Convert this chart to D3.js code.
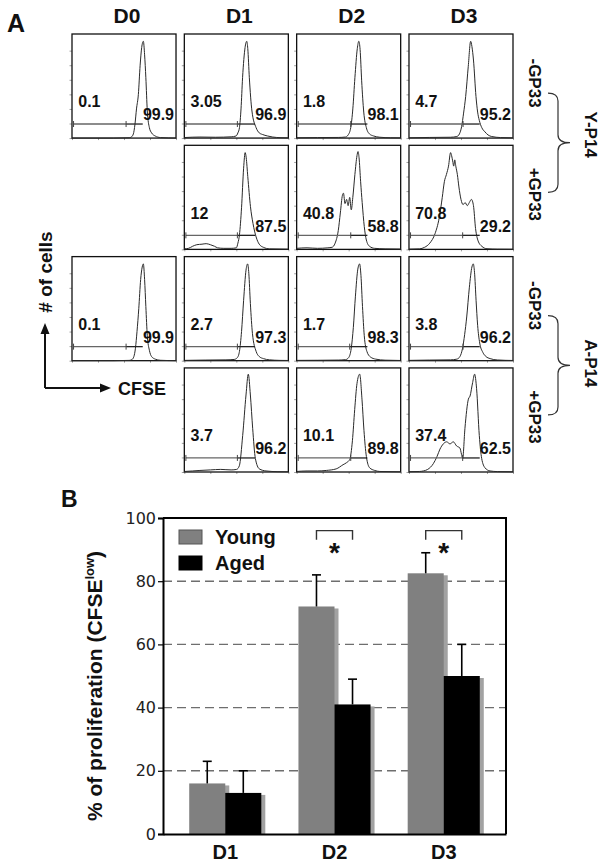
<!DOCTYPE html>
<html><head><meta charset="utf-8">
<script src="https://cdn.jsdelivr.net/npm/d3@7"></script>
<style>body{margin:0;background:#fff}svg{display:block}</style>
</head><body>
<svg id="c" width="604" height="866"></svg>
<script>
// ---------------- DATA: panel A ----------------
const columns = ["D0","D1","D2","D3"];
const rowLabels = ["-GP33","+GP33","-GP33","+GP33"];
const groupLabels = ["Y-P14","A-P14"];
const lowPct  = [["0.1","3.05","1.8","4.7"],[null,"12","40.8","70.8"],["0.1","2.7","1.7","3.8"],[null,"3.7","10.1","37.4"]];
const highPct = [["99.9","96.9","98.1","95.2"],[null,"87.5","58.8","29.2"],["99.9","97.3","98.3","96.2"],[null,"96.2","89.8","62.5"]];
const gateSplit = [[52,51,52,52],[null,51,52,51.6],[52,51,51,52],[null,51,52,51.6]];

// histogram profiles: [CFSE channel (0-100), cell count (% of panel height)]
const hYm_D0 = [[0,0],[40,0],[55,0.3],[57,1],[59,4],[60.5,13],[62,28],[63.8,42],[65.5,70],[67,87],[68.6,93],[69.8,80],[71,58],[72.4,26],[74.4,10],[76.5,5],[80,2],[85,0.5],[100,0]];
const hYm_D1 = [[0,0.5],[15,1],[30,0.8],[45,1.2],[49.7,2],[51.5,5],[53,10],[54.5,28],[56,58],[58.4,87],[60,93],[61,86],[62.5,58],[65,26],[69,10],[72,5],[75,3.5],[80,2],[85,1],[92,0.4],[100,0.2]];
const hYm_D2 = [[0,0.3],[20,0.5],[40,0.6],[47,1],[49.5,3],[52,10],[54,28],[56,58],[58.3,86],[59.8,93],[61,85],[62.5,55],[64.5,25],[67,10],[70,4],[74,2],[80,0.8],[90,0.3],[100,0.2]];
const hYm_D3 = [[0,0.3],[20,0.6],[40,0.8],[46,1.5],[48.5,4],[50.6,11],[52.5,24],[54.5,40],[57,69],[59.3,93],[60.5,88],[62,75],[64.4,40],[66,25],[67.6,17],[70,10],[73,6],[76,3],[79.5,1.5],[88,0.5],[100,0.2]];
const hYp_D1 = [[0,0.5],[4,1],[8,3],[12,4.5],[17,5],[21,5.5],[25,4.5],[29,3],[32,1.5],[38,1],[45,1],[50,1.5],[51.5,6],[53,14],[55,40],[57,78],[58.5,93],[59.5,88],[61,70],[63.6,41],[66,25],[69,12],[72,5],[76,2],[82,0.5],[100,0.2]];
const hYp_D2 = [[0,1],[10,1.5],[20,1],[30,1.5],[34,2],[37,6],[40,18],[42,35],[44,52],[45,54],[46.5,44],[48,48],[49.5,42],[51,50],[52.5,38],[54,50],[56,72],[58,90],[59,94],[60,88],[61.5,65],[63,45],[65,22],[67,9],[70,3],[75,1],[85,0.5],[100,0.3]];
const hYp_D3 = [[0,0.2],[10,0.5],[15,2],[20,6],[25,15],[29,30],[32,50],[34,65],[36,72],[38,80],[40,93],[41,90],[42,85],[43,80],[44,86],[45,80],[46.5,72],[48,60],[50,48],[52,43],[54,45],[56,42],[58,45],[60,48],[62,42],[64,20],[66.5,8],[70,3],[75,0.6],[85,0.2],[100,0.1]];
const hAm_D0 = [[0,0],[40,0],[55,0.3],[57.5,1],[59.5,4],[61,12],[62.5,28],[64.2,50],[66,78],[67.5,90],[68.6,93],[69.8,78],[71,52],[72.4,24],[74.4,10],[76.5,4],[80,1.5],[85,0.4],[100,0]];
const hAm_D1 = [[0,0.3],[20,0.6],[40,0.8],[48,1.2],[51,3],[53,9],[55,28],[57,58],[59.3,87],[60.9,93],[62,84],[63.5,55],[65.5,26],[69,9],[72,4],[76,2],[82,0.8],[92,0.3],[100,0.2]];
const hAm_D2 = [[0,0.3],[20,0.4],[40,0.6],[47,1],[50,3],[52.5,12],[54.5,32],[56.5,62],[58.8,88],[60.5,93],[61.8,82],[63.3,52],[65,24],[67.5,9],[71,3.5],[76,1.5],[85,0.5],[100,0.2]];
const hAm_D3 = [[0,0.3],[20,0.6],[40,0.8],[46,1.5],[49,4],[51.5,12],[53.5,25],[55.5,42],[58,70],[60.5,90],[61.8,93],[63,85],[64.5,58],[66,34],[68,17],[71,8],[74,4],[78,2],[85,0.7],[100,0.2]];
const hAp_D1 = [[0,0.5],[8,1],[15,1.5],[25,2],[35,2.5],[45,2],[50.3,2.5],[52.9,6],[56.1,35],[59.3,74],[61.5,94],[63.5,74],[65.7,42],[68.3,13],[72.1,3],[78.5,1],[90,0.3],[100,0.2]];
const hAp_D2 = [[0,0.5],[10,1],[20,1],[28.5,1.5],[38,3],[44.6,7],[48,9],[51,12],[53.6,30],[55.8,60],[58,85],[60.6,94],[62.8,70],[64.7,40],[67,15],[70.2,4],[75,1.5],[80,0.5],[100,0.2]];
const hAp_D3 = [[0,0.3],[10,0.5],[13.8,1],[18,2.5],[23.4,8],[27,15],[29.8,22],[33,27],[36.2,29],[39.4,27],[42.6,29],[45.8,25],[49,23],[50.5,17],[51.6,13],[53.8,42],[57.1,70],[58.7,73],[61.2,86],[63.1,94],[65,80],[67.6,35],[69.9,13],[73.1,4],[77.9,1],[85,0.4],[100,0.2]];

const histograms = [
  [hYm_D0, hYm_D1, hYm_D2, hYm_D3],
  [null,   hYp_D1, hYp_D2, hYp_D3],
  [hAm_D0, hAm_D1, hAm_D2, hAm_D3],
  [null,   hAp_D1, hAp_D2, hAp_D3]
];

// ---------------- DATA: panel B ----------------
const days = ["D1","D2","D3"];
const seriesNames = ["Young","Aged"];
const youngMean = [16, 72, 82.5];
const youngSD   = [7, 10, 6.5];
const agedMean  = [13, 41, 50];
const agedSD    = [7, 8, 10];
const yTicks = [0, 20, 40, 60, 80, 100];
const sigDays = ["D2","D3"];
const sigLevel = 96;

// ---------------- DRAW ----------------
const svg = d3.select("#c");
const SANS = "'Liberation Sans', Arial, Helvetica, sans-serif";
const TXT = "#111";

// ===== Panel A =====
svg.append("text").attr("x", 7).attr("y", 32).text("A")
  .attr("font-family", SANS).attr("font-size", 25).attr("font-weight", "bold").attr("fill", TXT);

const colScale = d3.scaleBand().domain(columns).range([72, 513]).paddingInner(0.074);
const rowScale = d3.scaleBand().domain(d3.range(4)).range([34, 472]).paddingInner(0.065);
const bw = colScale.bandwidth(), bh = rowScale.bandwidth();
const hx = d3.scaleLinear().domain([0, 100]).range([0, bw]);
const hy = d3.scaleLinear().domain([0, 100]).range([bh, 0]);
const tickX = d3.scaleLog().domain([1, 10000]).range([0, bw]);
const tickY = d3.scaleLinear().domain([0, 100]).range([bh, 0]);
const histLine = d3.line().x(d => hx(d[0])).y(d => hy(d[1])).curve(d3.curveMonotoneX);
const gateY = 13.5;

columns.forEach(c => {
  svg.append("text").attr("x", colScale(c) + bw / 2 + 3).attr("y", 23).text(c)
    .attr("text-anchor", "middle").attr("font-family", SANS).attr("font-size", 21)
    .attr("font-weight", "bold").attr("fill", TXT);
});

histograms.forEach((row, r) => {
  row.forEach((data, c) => {
    if (!data) return;
    const g = svg.append("g").attr("transform", `translate(${colScale(columns[c])},${rowScale(r)})`);
    const ay = g.append("g").call(d3.axisLeft(tickY).tickValues([0, 14, 28, 42, 56, 70, 84]).tickSize(2.5).tickFormat(""));
    const ax = g.append("g").attr("transform", `translate(0,${bh})`)
      .call(d3.axisBottom(tickX).ticks(4).tickSize(2).tickFormat(""));
    [ay, ax].forEach(a => { a.select(".domain").remove(); a.selectAll("line").attr("stroke", "#888").attr("stroke-width", 0.8); });

    g.append("rect").attr("x", 0).attr("y", 0).attr("width", bw).attr("height", bh)
      .attr("fill", "none").attr("stroke", "#111").attr("stroke-width", 1.3);

    g.append("path").datum(data).attr("d", histLine)
      .attr("fill", "none").attr("stroke", "#2a2a2a").attr("stroke-width", 1);

    const s = gateSplit[r][c];
    const gy = hy(gateY);
    g.append("line").attr("x1", hx(1.5)).attr("x2", hx(s)).attr("y1", gy).attr("y2", gy)
      .attr("stroke", "#666").attr("stroke-width", 1.3);
    g.append("line").attr("x1", hx(s)).attr("x2", hx(68)).attr("y1", gy).attr("y2", gy)
      .attr("stroke", "#222").attr("stroke-width", 1.3);
    [1.5, s].forEach(v => g.append("line").attr("x1", hx(v)).attr("x2", hx(v))
      .attr("y1", gy - 3).attr("y2", gy + 3).attr("stroke", "#444").attr("stroke-width", 1));

    g.append("text").attr("x", hx(6)).attr("y", bh * 0.705).text(lowPct[r][c])
      .attr("font-family", SANS).attr("font-size", 16).attr("font-weight", "bold").attr("fill", TXT);
    g.append("text").attr("x", bw - 2).attr("y", bh * 0.83).text(highPct[r][c])
      .attr("text-anchor", "end").attr("font-family", SANS).attr("font-size", 16)
      .attr("font-weight", "bold").attr("fill", TXT);
  });
});

// row labels (rotated)
rowLabels.forEach((lab, r) => {
  const cy = rowScale(r) + bh / 2 - 3;
  svg.append("text").attr("transform", `translate(534,${cy}) rotate(90)`).text(lab)
    .attr("text-anchor", "middle").attr("dominant-baseline", "central")
    .attr("font-family", SANS).attr("font-size", 17).attr("font-weight", "bold").attr("fill", TXT);
});

// braces + group labels
function brace(x0, yTop, yBot, yMid) {
  const x1 = x0 + 10, x2 = x0 + 22, rr = 8;
  return `M${x0},${yTop} Q${x1},${yTop} ${x1},${yTop + rr} L${x1},${yMid - rr} Q${x1},${yMid} ${x2},${yMid}` +
         ` Q${x1},${yMid} ${x1},${yMid + rr} L${x1},${yBot - rr} Q${x1},${yBot} ${x0},${yBot}`;
}
groupLabels.forEach((lab, i) => {
  const top = rowScale(i * 2) + bh / 2 + 7;
  const bot = rowScale(i * 2 + 1) + bh / 2 - 5;
  const mid = (top + bot) / 2;
  svg.append("path").attr("d", brace(548, top, bot, mid))
    .attr("fill", "none").attr("stroke", "#333").attr("stroke-width", 1.2);
  svg.append("text").attr("transform", `translate(590,${mid - (i === 0 ? 8 : 2)}) rotate(90)`).text(lab)
    .attr("text-anchor", "middle").attr("dominant-baseline", "central")
    .attr("font-family", SANS).attr("font-size", 17).attr("font-weight", "bold").attr("fill", TXT);
});

// axis-legend arrows
svg.append("text").attr("transform", "translate(45,272) rotate(-90)").text("# of cells")
  .attr("text-anchor", "middle").attr("dominant-baseline", "central")
  .attr("font-family", SANS).attr("font-size", 19).attr("font-weight", "bold").attr("fill", TXT);
svg.append("path").attr("d", "M45,388 L45,332 M45,388 L101,388")
  .attr("fill", "none").attr("stroke", "#111").attr("stroke-width", 2);
svg.append("path").attr("d", "M45,323 L40.5,334 L49.5,334 Z M111,388 L100,383.5 L100,392.5 Z").attr("fill", "#111");
svg.append("text").attr("x", 118).attr("y", 394.5).text("CFSE")
  .attr("font-family", SANS).attr("font-size", 18).attr("font-weight", "bold").attr("fill", TXT);

// ===== Panel B =====
svg.append("text").attr("x", 61).attr("y", 507).text("B")
  .attr("font-family", SANS).attr("font-size", 23).attr("font-weight", "bold").attr("fill", TXT);

const y = d3.scaleLinear().domain([0, 100]).range([834, 518]);
const x0 = d3.scaleBand().domain(days).range([163, 506]).paddingInner(0.34).paddingOuter(0.24);
const x1 = d3.scaleBand().domain(seriesNames).range([0, x0.bandwidth()]);
const colors = { Young: "#808080", Aged: "#000000" };
const means = { Young: youngMean, Aged: agedMean };
const sds = { Young: youngSD, Aged: agedSD };

// gridlines
svg.append("g").selectAll("line").data(yTicks.filter(t => t > 0 && t < 100)).join("line")
  .attr("x1", 163).attr("x2", 506).attr("y1", d => y(d)).attr("y2", d => y(d))
  .attr("stroke", "#6e6e6e").attr("stroke-width", 1.4).attr("stroke-dasharray", "9,5");

// frame (top + right)
svg.append("path").attr("d", `M163,${y(100)} L506,${y(100)} L506,${y(0)}`)
  .attr("fill", "none").attr("stroke", "#000").attr("stroke-width", 2);

// bars
const barData = [];
days.forEach((d, i) => seriesNames.forEach(s => barData.push({ day: d, s, v: means[s][i], sd: sds[s][i] })));
const gb = svg.append("g");
gb.selectAll("rect.sh").data(barData).join("rect").attr("class", "sh")
  .attr("x", d => x0(d.day) + x1(d.s) + 4).attr("y", d => y(d.v) + 2)
  .attr("width", x1.bandwidth()).attr("height", d => y(0) - y(d.v) - 2)
  .attr("fill", "#a2a2a2");
gb.selectAll("rect.bar").data(barData).join("rect").attr("class", "bar")
  .attr("x", d => x0(d.day) + x1(d.s)).attr("y", d => y(d.v))
  .attr("width", x1.bandwidth()).attr("height", d => y(0) - y(d.v))
  .attr("fill", d => colors[d.s]);

// error bars
const ge = svg.append("g").attr("stroke", "#000").attr("stroke-width", 1.6);
barData.forEach(d => {
  const cx = x0(d.day) + x1(d.s) + x1.bandwidth() / 2;
  ge.append("line").attr("x1", cx).attr("x2", cx).attr("y1", y(d.v)).attr("y2", y(d.v + d.sd));
  ge.append("line").attr("x1", cx - 4.5).attr("x2", cx + 4.5).attr("y1", y(d.v + d.sd)).attr("y2", y(d.v + d.sd));
});

// axes
const yAxis = svg.append("g").attr("transform", "translate(163,0)")
  .call(d3.axisLeft(y).tickValues(yTicks).tickSize(5).tickPadding(2));
yAxis.select(".domain").attr("stroke", "#000").attr("stroke-width", 2);
yAxis.selectAll(".tick line").attr("stroke", "#000").attr("stroke-width", 1.2);
yAxis.selectAll("text").attr("font-family", "'DejaVu Sans', Verdana, sans-serif")
  .attr("font-size", 16).attr("fill", "#222");

const xAxis = svg.append("g").attr("transform", `translate(0,${y(0)})`)
  .call(d3.axisBottom(x0).tickSize(0).tickPadding(11));
xAxis.select(".domain").attr("stroke", "#000").attr("stroke-width", 2);
xAxis.selectAll("text").attr("font-family", SANS).attr("font-size", 20)
  .attr("font-weight", "bold").attr("fill", TXT).attr("dy", "0.71em");

// significance brackets
sigDays.forEach(d => {
  const xa = x0(d) + x1("Young") + x1.bandwidth() / 2;
  const xb = x0(d) + x1("Aged") + x1.bandwidth() / 2;
  const yy = y(sigLevel);
  svg.append("path").attr("d", `M${xa},${yy + 9} L${xa},${yy} L${xb},${yy} L${xb},${yy + 9}`)
    .attr("fill", "none").attr("stroke", "#333").attr("stroke-width", 1.4);
  svg.append("text").attr("x", (xa + xb) / 2).attr("y", yy + 31).text("*")
    .attr("text-anchor", "middle").attr("font-family", SANS).attr("font-size", 28)
    .attr("font-weight", "bold").attr("fill", "#111");
});

// legend
seriesNames.forEach((s, i) => {
  const ly = 530 + i * 26;
  svg.append("rect").attr("x", 179).attr("y", ly).attr("width", 23).attr("height", 14)
    .attr("fill", colors[s]).attr("stroke", s === "Young" ? "#555" : "#000").attr("stroke-width", 1);
  svg.append("text").attr("x", 215).attr("y", ly + 13.5).text(s)
    .attr("font-family", SANS).attr("font-size", 20).attr("font-weight", "bold").attr("fill", TXT);
});

// y label
const yl = svg.append("text").attr("transform", "translate(102,686) rotate(-90)")
  .attr("text-anchor", "middle").attr("font-family", SANS).attr("font-size", 21)
  .attr("font-weight", "bold").attr("fill", TXT);
yl.append("tspan").text("% of proliferation (CFSE");
yl.append("tspan").text("low").attr("font-size", 13).attr("dy", -8);
yl.append("tspan").text(")").attr("dy", 8);
</script>
</body></html>
